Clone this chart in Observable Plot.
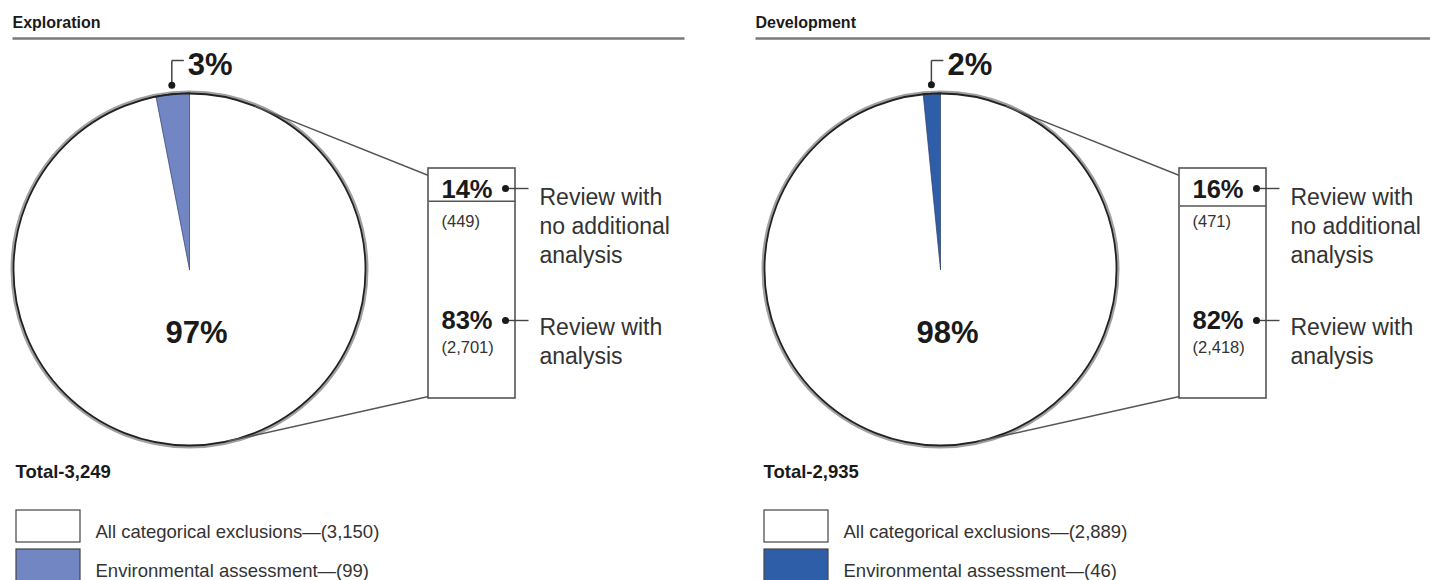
<!DOCTYPE html>
<html><head><meta charset="utf-8">
<script src="https://cdn.jsdelivr.net/npm/d3@7"></script>
<script src="https://cdn.jsdelivr.net/npm/@observablehq/plot@0.6"></script>
<style>
html,body{margin:0;padding:0;background:#fff;}
#chart svg{display:block;}
</style></head>
<body><div id="chart"></div>
<script>
// ---- data ----
const panels = ["Exploration", "Development"];
const totals = [3249, 2935];
const exclusions = [3150, 2889];
const assessments = [99, 46];
const noAnalysis = [449, 471];
const withAnalysis = [2701, 2418];
const sliceColors = ["#7386c4", "#2f5ea9"];
const legendLabels = ["All categorical exclusions", "Environmental assessment"];
const reviewLabels = ["Review with\nno additional\nanalysis", "Review with\nanalysis"];

// ---- layout ----
const W = 1430, H = 580;
const PANEL_DX = 751;
const R = 176, CX = 189, CY = 269;
const BOX_X = 428, BOX_W = 87, BOX_TOP = 168, BOX_BOTTOM = 398;
const FONT = "Liberation Sans, Arial, Helvetica, sans-serif";
const fmtInt = d3.format(",");
const pct = (v, t) => Math.round(v / t * 100) + "%";

const marks = [];
panels.forEach((name, i) => {
  const ox = i * PANEL_DX;
  const cx = CX + ox, cy = CY;
  const bx = BOX_X + ox;
  const tx = i === 0 ? 12 : 755;

  // title + rule
  marks.push(Plot.text([{x: tx, y: 27, t: name}], {x: "x", y: "y", text: "t", textAnchor: "start", lineAnchor: "bottom", fontSize: 16, fontWeight: "bold", fill: "#1a1a1a", fontFamily: FONT}));
  marks.push(Plot.link([{x1: tx, x2: i === 0 ? 684 : W, y: 38}], {x1: "x1", x2: "x2", y1: "y", y2: "y", stroke: "#7a7a7a", strokeWidth: 2.5}));

  // pie shadow + circle
  marks.push(Plot.dot([{x: cx, y: cy}], {x: "x", y: "y", r: R, fill: "none", stroke: "#a0a0a0", strokeWidth: 6, ariaLabel: "pie-shadow"}));
  marks.push(Plot.dot([{x: cx, y: cy}], {x: "x", y: "y", r: R, fill: "white", stroke: "#222", strokeWidth: 1.8}));

  // environmental assessment slice (angle from data)
  const a = assessments[i] / totals[i] * 2 * Math.PI;
  const pts = [{x: cx, y: cy}];
  const N = 40;
  for (let k = 0; k <= N; k++) {
    const th = -a + a * k / N;
    pts.push({x: cx + R * Math.sin(th), y: cy - R * Math.cos(th)});
  }
  pts.push({x: cx, y: cy});
  marks.push(Plot.line(pts, {x: "x", y: "y", fill: sliceColors[i], stroke: "#2a3b66", strokeWidth: 0.7, curve: "linear"}));
  marks.push(Plot.line(pts.slice(1, -1), {x: "x", y: "y", stroke: "#222", strokeWidth: 1.8, curve: "linear"}));

  // slice label with leader
  const mid = -a / 2;
  const dx = cx + (R + 9) * Math.sin(mid), dy = cy - (R + 9) * Math.cos(mid);
  marks.push(Plot.link([{x1: dx, y1: dy, x2: dx, y2: 60}, {x1: dx, y1: 60, x2: dx + 12, y2: 60}], {x1: "x1", y1: "y1", x2: "x2", y2: "y2", stroke: "#444", strokeWidth: 1.5}));
  marks.push(Plot.dot([{x: dx, y: dy}], {x: "x", y: "y", r: 3.5, fill: "#1a1a1a"}));
  marks.push(Plot.text([{x: dx + 16, y: 74, t: pct(assessments[i], totals[i])}], {x: "x", y: "y", text: "t", textAnchor: "start", lineAnchor: "bottom", fontSize: 31, fontWeight: "bold", fill: "#1a1a1a", fontFamily: FONT}));

  // main percentage
  marks.push(Plot.text([{x: cx + 7, y: 342, t: pct(exclusions[i], totals[i])}], {x: "x", y: "y", text: "t", textAnchor: "middle", lineAnchor: "bottom", fontSize: 31, fontWeight: "bold", fill: "#1a1a1a", fontFamily: FONT}));

  // tangent connectors from box to circle
  const tangent = (px, py, sign) => {
    const ddx = px - cx, ddy = py - cy;
    const d = Math.hypot(ddx, ddy);
    const phi = Math.atan2(ddy, ddx), al = Math.acos(R / d);
    const t = phi + sign * al;
    return {x1: cx + R * Math.cos(t), y1: cy + R * Math.sin(t), x2: px, y2: py};
  };
  marks.push(Plot.link([tangent(bx, BOX_TOP + 7, -1), tangent(bx, BOX_BOTTOM - 2, 1)], {x1: "x1", y1: "y1", x2: "x2", y2: "y2", stroke: "#555", strokeWidth: 1.4}));

  // breakdown bar
  const divY = BOX_TOP + noAnalysis[i] / exclusions[i] * (BOX_BOTTOM - BOX_TOP);
  marks.push(Plot.rect([{x1: bx, x2: bx + BOX_W, y1: BOX_TOP, y2: BOX_BOTTOM}], {x1: "x1", x2: "x2", y1: "y1", y2: "y2", fill: "white", stroke: "#555", strokeWidth: 1.6}));
  marks.push(Plot.link([{x1: bx, x2: bx + BOX_W, y: divY}], {x1: "x1", x2: "x2", y1: "y", y2: "y", stroke: "#555", strokeWidth: 1.6}));

  const rows = [
    {pY: 197, cY: 226, dotY: 188, lY: 262, p: pct(noAnalysis[i], totals[i]), c: noAnalysis[i], lab: reviewLabels[0]},
    {pY: 328, cY: 352, dotY: 320, lY: 363, p: pct(withAnalysis[i], totals[i]), c: withAnalysis[i], lab: reviewLabels[1]}
  ];
  marks.push(Plot.text(rows, {x: () => bx + 13, y: "pY", text: "p", textAnchor: "start", lineAnchor: "bottom", fontSize: 25.5, fontWeight: "bold", fill: "#1a1a1a", fontFamily: FONT}));
  marks.push(Plot.text(rows, {x: () => bx + 13, y: "cY", text: d => "(" + fmtInt(d.c) + ")", textAnchor: "start", lineAnchor: "bottom", fontSize: 16.5, fill: "#333", fontFamily: FONT}));
  marks.push(Plot.link(rows, {x1: () => bx + 77, x2: () => bx + 100, y1: "dotY", y2: "dotY", stroke: "#444", strokeWidth: 1.4}));
  marks.push(Plot.dot(rows, {x: () => bx + 77, y: "dotY", r: 3.5, fill: "#1a1a1a"}));
  marks.push(Plot.text(rows, {x: () => bx + 111, y: "lY", text: "lab", textAnchor: "start", lineAnchor: "bottom", lineHeight: 1.25, fontSize: 23, fill: "#333", fontFamily: FONT}));

  // total + legend
  const lx = 16 + ox - (i ? 3 : 0);
  marks.push(Plot.text([{x: lx - 1, y: 477, t: "Total-" + fmtInt(totals[i])}], {x: "x", y: "y", text: "t", textAnchor: "start", lineAnchor: "bottom", fontSize: 18.5, fontWeight: "bold", fill: "#1a1a1a", fontFamily: FONT}));
  const leg = [
    {y1: 510, y2: 542, fill: "white", t: legendLabels[0] + "\u2014(" + fmtInt(exclusions[i]) + ")", ty: 537},
    {y1: 549, y2: 582, fill: sliceColors[i], t: legendLabels[1] + "\u2014(" + fmtInt(assessments[i]) + ")", ty: 576}
  ];
  marks.push(Plot.rect(leg, {x1: () => lx, x2: () => lx + 64, y1: "y1", y2: "y2", fill: d => d.fill, stroke: "#444", strokeWidth: 1.2}));
  marks.push(Plot.text(leg, {x: () => lx + 79, y: "ty", text: "t", textAnchor: "start", lineAnchor: "bottom", fontSize: 18.5, fill: "#333", fontFamily: FONT}));
});

const chart = Plot.plot({
  width: W, height: H,
  margin: 0,
  x: {domain: [0, W], range: [0, W], axis: null},
  y: {domain: [0, H], range: [0, H], axis: null},
  color: {type: "identity"},
  style: {background: "white", fontFamily: FONT},
  marks
});

// soft shadow around the pies
const svg = d3.select(chart);
const defs = svg.insert("defs", ":first-child");
defs.append("filter").attr("id", "pieblur").attr("x", "-20%").attr("y", "-20%").attr("width", "140%").attr("height", "140%")
  .append("feGaussianBlur").attr("stdDeviation", 2.5);
svg.selectAll('[aria-label="pie-shadow"]').attr("filter", "url(#pieblur)");

document.getElementById("chart").appendChild(chart);
</script>
</body></html>
